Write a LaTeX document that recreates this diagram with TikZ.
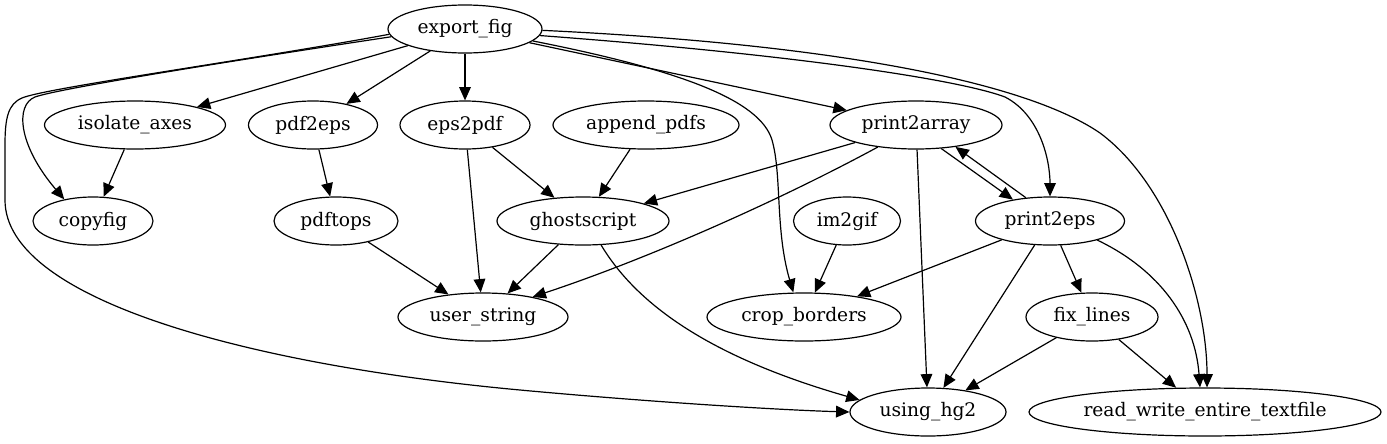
\documentclass[tikz,border=0pt]{standalone}
\usepackage{fontspec}
\setmainfont{DejaVu Serif}
\usetikzlibrary{arrows.meta,shapes.geometric}
\begin{document}
\begin{tikzpicture}[x=0.75pt,y=-0.75pt,
  nd/.style={draw, ellipse, line width=0.9pt, minimum height=36pt, inner sep=0pt,
    font=\fontsize{14}{16}\selectfont},
  ed/.style={draw, line width=0.9pt, -{Triangle[length=10pt,width=8.75pt]}},
]
\fill[white] (0,0) rectangle (1387,443);
\useasboundingbox (0,0) rectangle (1387,443);

\node[nd, minimum width=115.5pt] (ef) at (465,29) {export\_fig};
\node[nd, minimum width=135.75pt] (ia) at (135,125) {isolate\_axes};
\node[nd, minimum width=96.75pt] (pe) at (313,125) {pdf2eps};
\node[nd, minimum width=97.5pt] (ep) at (465,125) {eps2pdf};
\node[nd, minimum width=139.5pt] (ap) at (646,125) {append\_pdfs};
\node[nd, minimum width=129pt] (pa) at (916,125) {print2array};
\node[nd, minimum width=90pt] (cf) at (93,221) {copyfig};
\node[nd, minimum width=93pt] (pt) at (336,221) {pdftops};
\node[nd, minimum width=129pt] (gs) at (583,221) {ghostscript};
\node[nd, minimum width=80.25pt] (ig) at (847,221) {im2gif};
\node[nd, minimum width=111.75pt] (p2) at (1050,221) {print2eps};
\node[nd, minimum width=127.5pt] (us) at (483,317) {user\_string};
\node[nd, minimum width=145.5pt] (cb) at (804,317) {crop\_borders};
\node[nd, minimum width=99pt] (fl) at (1092,317) {fix\_lines};
\node[nd, minimum width=117pt] (hg) at (928,412) {using\_hg2};
\node[nd, minimum width=264pt] (rw) at (1205,412) {read\_write\_entire\_textfile};

% export_fig
\draw[ed] (ef) -- (ia);
\draw[ed] (ef) -- (pe);
\draw[ed] (ef) -- (ep);
\draw[ed] (ef) -- (pa);
\draw[ed] (ef.186) .. controls (250,58) and (60,88) .. (35,97)
  .. controls (15,105) and (18,145) .. (cf.143);
\draw[ed] (ef.184) .. controls (250,60) and (45,88) .. (22,98)
  .. controls (8,104) and (5,118) .. (5,145) -- (5,200)
  .. controls (5,300) and (250,365) .. (520,390)
  .. controls (650,402) and (780,410) .. (hg.west);
\draw[ed] (ef.-10) .. controls (680,70) and (760,100) .. (772,140)
  .. controls (782,175) and (775,230) .. ([xshift=-8pt]cb.north);
\draw[ed] (ef.-5) .. controls (800,55) and (960,80) .. (1005,97)
  .. controls (1040,115) and (1050,160) .. (p2.north);
\draw[ed] (ef.-1) .. controls (850,45) and (1030,85) .. (1100,133)
  .. controls (1170,185) and (1207,300) .. ([xshift=1.5pt]rw.north);

% second row
\draw[ed] (ia) -- (cf);
\draw[ed] (pe) -- (pt);
\draw[ed] (ep) -- (us);
\draw[ed] (ep) -- (gs);
\draw[ed] (ap) -- (gs);
\draw[ed] (pa) -- (gs);
\draw[ed] (pa.-150) .. controls (780,200) and (650,258) .. (us.22);
\draw[ed] (pa) -- (hg);
\draw[ed] (pa.-43) -- (p2.150);
\draw[ed] (p2.136) -- (pa.-29);

% third row
\draw[ed] (pt) -- (us);
\draw[ed] (gs) -- (us);
\draw[ed] (gs.-53) .. controls (640,310) and (720,360) .. (hg.170);
\draw[ed] (ig) -- (cb);
\draw[ed] (p2) -- (cb);
\draw[ed] (p2) -- (hg);
\draw[ed] (p2) -- (fl);
\draw[ed] (p2.-22) .. controls (1160,270) and (1195,320) .. ([xshift=-3.75pt]rw.north);

% fourth row
\draw[ed] (fl) -- (hg);
\draw[ed] (fl) -- (rw);
\end{tikzpicture}
\end{document}
